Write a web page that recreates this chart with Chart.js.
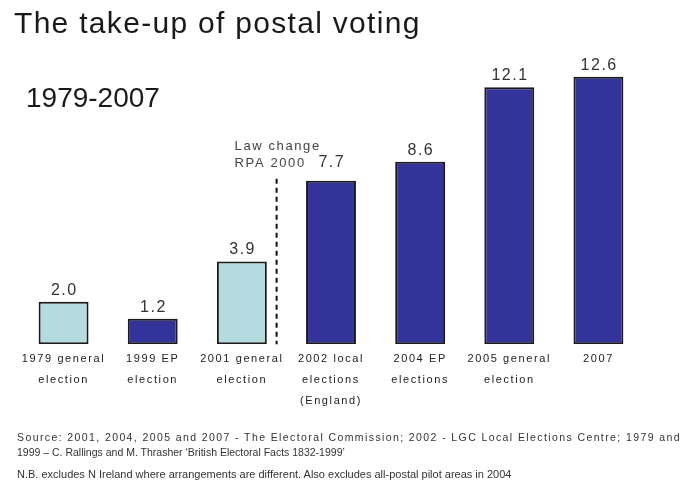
<!DOCTYPE html>
<html>
<head>
<meta charset="utf-8">
<script src="https://cdn.jsdelivr.net/npm/chart.js@4/dist/chart.umd.min.js"></script>
<style>
  html, body { margin: 0; padding: 0; background: #fff; }
  #wrap { position: relative; width: 686px; height: 489px; overflow: hidden; font-family: "Liberation Sans", Arial, sans-serif; }
  #c { position: absolute; left: 0; top: 0; }
  .t { position: absolute; white-space: nowrap; color: #222; }
  #title { left: 14px; top: 6px; font-size: 30px; letter-spacing: 1.3px; color: #1a1a1a; }
  #sub { left: 26px; top: 82px; font-size: 28px; color: #1a1a1a; }
  .note { font-size: 10.5px; color: #333; left: 17px; line-height: 13px; }
  #src1 { letter-spacing: 1.4px; }
</style>
</head>
<body>
<div id="wrap">
  <canvas id="c" width="686" height="489"></canvas>
  <div class="t" id="title">The take-up of postal voting</div>
  <div class="t" id="sub">1979-2007</div>
  <div class="t note" id="src1" style="top:431px">Source: 2001, 2004, 2005 and 2007 - The Electoral Commission; 2002 - LGC Local Elections Centre; 1979 and</div>
  <div class="t note" style="top:446px">1999 – C. Rallings and M. Thrasher ‘British Electoral Facts 1832-1999’</div>
  <div class="t note" style="top:468px; font-size:11px">N.B. excludes N Ireland where arrangements are different. Also excludes all-postal pilot areas in 2004</div>
</div>
<script>
const categories = [
  ["1979 general", "election"],
  ["1999 EP", "election"],
  ["2001 general", "election"],
  ["2002 local", "elections", "(England)"],
  ["2004 EP", "elections"],
  ["2005 general", "election"],
  ["2007"]
];
const postalVotePct = [2.0, 1.2, 3.9, 7.7, 8.6, 12.1, 12.6];
const valueLabels = ["2.0", "1.2", "3.9", "7.7", "8.6", "12.1", "12.6"];
const lawChangeLines = ["Law change", "RPA 2000"];

const LIGHT = "#b4dcdf", DARK = "#333399";
const barColors = [LIGHT, DARK, LIGHT, DARK, DARK, DARK, DARK];

const spacing = {
  id: "spacing",
  beforeDraw(chart) { chart.ctx.letterSpacing = "1.6px"; },
  beforeDatasetsDraw(chart) { chart.ctx.letterSpacing = "0px"; }
};

const annot = {
  id: "annot",
  afterDatasetsDraw(chart) {
    const ctx = chart.ctx;
    const xs = chart.scales.x, ys = chart.scales.y;
    const meta = chart.getDatasetMeta(0);
    ctx.save();
    ctx.letterSpacing = "1.5px";
    ctx.fillStyle = "#333";
    ctx.font = "16px 'Liberation Sans', Arial, sans-serif";
    ctx.textAlign = "center";
    ctx.textBaseline = "alphabetic";
    meta.data.forEach((bar, i) => {
      const off = (i === 3) ? 14 : 7;
      ctx.fillText(valueLabels[i], bar.x + 0.75, bar.y - off);
    });
    // dashed law-change line
    const step = xs.getPixelForValue(1) - xs.getPixelForValue(0);
    const lx = xs.getPixelForValue(2) + 0.39 * step;
    ctx.strokeStyle = "#111";
    ctx.lineWidth = 2;
    ctx.setLineDash([5, 4]);
    ctx.beginPath();
    ctx.moveTo(lx, ys.getPixelForValue(7.7) - 2);
    ctx.lineTo(lx, ys.getPixelForValue(0));
    ctx.stroke();
    ctx.setLineDash([]);
    ctx.font = "13px 'Liberation Sans', Arial, sans-serif";
    ctx.letterSpacing = "1.6px";
    ctx.textAlign = "left";
    ctx.fillStyle = "#444";
    const b = meta.data[3];
    ctx.fillText(lawChangeLines[0], lx - 42, b.y - 31);
    ctx.fillText(lawChangeLines[1], lx - 42, b.y - 14);
    ctx.restore();
  }
};

new Chart(document.getElementById("c"), {
  type: "bar",
  data: {
    labels: categories,
    datasets: [{
      data: postalVotePct,
      backgroundColor: barColors,
      borderColor: "#1a1a1a",
      borderWidth: 2,
      borderSkipped: false,
      barPercentage: 0.8,
      categoryPercentage: 0.7
    }]
  },
  options: {
    responsive: false,
    animation: false,
    layout: { padding: { left: 19, right: 43, top: 47, bottom: 74 } },
    plugins: { legend: { display: false }, tooltip: { enabled: false }, title: { display: false } },
    scales: {
      x: {
        grid: { display: false, drawTicks: false },
        border: { display: false },
        ticks: {
          color: "#222",
          padding: 4,
          maxRotation: 0,
          autoSkip: false,
          font: { family: "'Liberation Sans', Arial, sans-serif", size: 11, lineHeight: 1.9 }
        }
      },
      y: {
        display: false,
        min: 0,
        max: 14
      }
    }
  },
  plugins: [spacing, annot]
});
</script>
</body>
</html>
